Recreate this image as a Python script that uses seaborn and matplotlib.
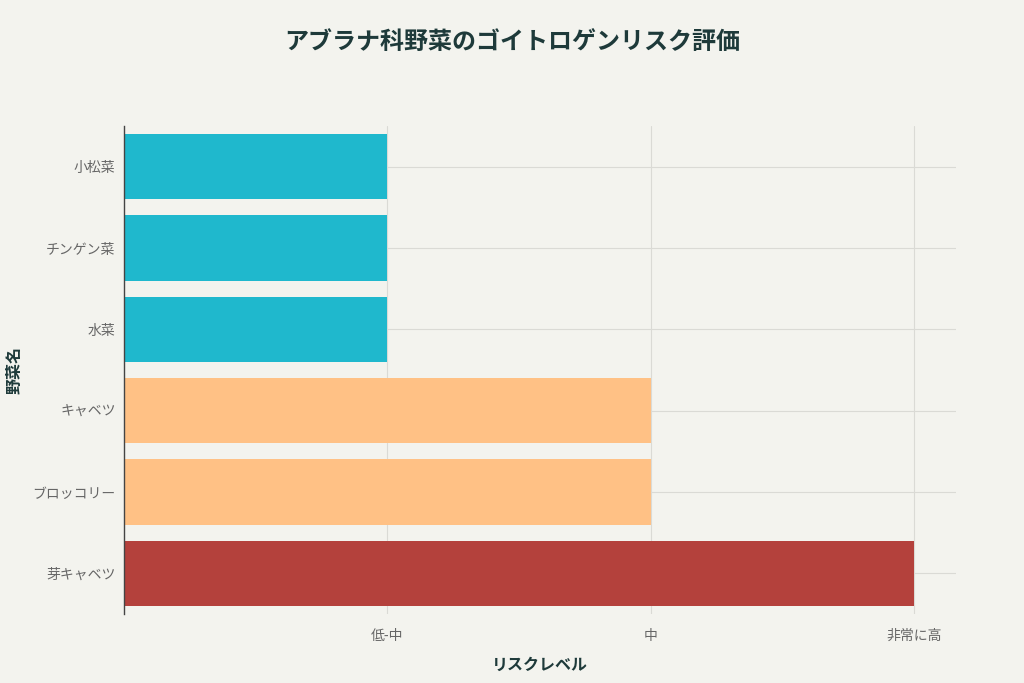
import matplotlib
matplotlib.use("Agg")
import matplotlib.pyplot as plt
import seaborn as sns
import pandas as pd

vegetables = ["小松菜", "チンゲン菜", "水菜", "キャベツ", "ブロッコリー", "芽キャベツ"]
risk_values = [1, 1, 1, 2, 2, 3]
tick_positions = [1, 2, 3]
tick_labels = ["低-中", "中", "非常に高"]
colors = ["#1FB8CD", "#1FB8CD", "#1FB8CD", "#FFC185", "#FFC185", "#B4413C"]

bg = "#F3F3EE"
sns.set_theme(style="white")
plt.rcParams['font.family'] = ['Noto Sans CJK JP', 'DejaVu Sans']

df = pd.DataFrame({"name": vegetables, "risk": risk_values})

fig = plt.figure(figsize=(10.24, 6.83), dpi=100, facecolor=bg)
ax = fig.add_axes([0.121, 0.101, 0.813, 0.7145])
ax.set_facecolor(bg)

sns.barplot(data=df, x="risk", y="name", hue="name", palette=colors, order=vegetables,
            hue_order=vegetables, legend=False, width=0.8, ax=ax, orient="h",
            saturation=1, linewidth=0, zorder=3)

ax.set_xlim(0, 3.16)
ax.set_ylim(5.5, -0.5)
ax.set_xticks(tick_positions)
ax.set_xticklabels(tick_labels)
ax.grid(True, color="#DADAD5", linewidth=0.8, zorder=0)
ax.set_axisbelow(True)
for s in ["top", "right", "bottom"]:
    ax.spines[s].set_visible(False)
ax.spines["left"].set_color("#444444")
ax.spines["left"].set_linewidth(1.0)
ax.spines["left"].set_zorder(5)
ax.tick_params(axis="both", colors="#DADAD5", labelcolor="#666666", labelsize=10)
ax.tick_params(axis="x", pad=6, length=5)
ax.tick_params(axis="y", pad=2, length=4)

ax.set_xlabel("リスクレベル", fontsize=11.5, fontweight="bold", color="#1E3A3A", labelpad=10)
ax.set_ylabel("野菜名", fontsize=11.5, fontweight="bold", color="#1E3A3A")
ax.yaxis.set_label_coords(-0.122, 0.5)

fig.text(0.5, 0.938, "アブラナ科野菜のゴイトロゲンリスク評価", ha="center", va="center",
         fontsize=17.3, fontweight="bold", color="#1E3A3A")

fig.savefig("out.png", dpi=100, facecolor=bg)
